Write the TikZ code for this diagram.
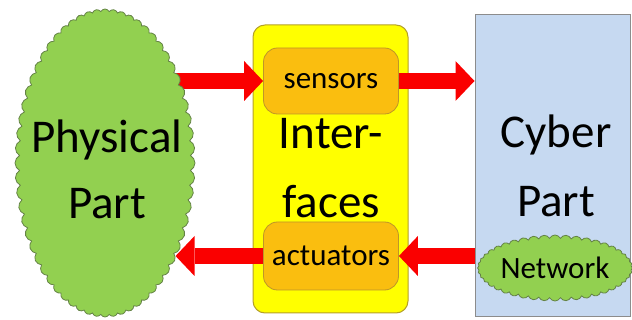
\documentclass[tikz,border=0pt]{standalone}
\usepackage{fontspec}
\setmainfont{Carlito}
\usetikzlibrary{shapes.symbols,shapes.geometric,arrows.meta}

\definecolor{leaf}{RGB}{146,208,80}
\definecolor{leafedge}{RGB}{100,130,70}
\definecolor{lemon}{RGB}{255,255,0}
\definecolor{lemonedge}{RGB}{180,160,40}
\definecolor{amber}{RGB}{250,190,15}
\definecolor{amberedge}{RGB}{190,150,40}
\definecolor{skyfill}{RGB}{198,217,241}
\definecolor{skyedge}{RGB}{140,140,140}
\definecolor{signalred}{RGB}{250,0,0}

\pgfdeclarelayer{bg}
\pgfdeclarelayer{mid}
\pgfsetlayers{bg,mid,main}

\tikzset{
  bigtext/.style={font=\fontsize{47}{66}\selectfont, align=center, inner sep=0pt},
  smalltext/.style={font=\fontsize{31}{36}\selectfont, inner sep=0pt},
  panel/.style={rectangle, rounded corners=12pt, fill=lemon, draw=lemonedge, line width=1pt},
  port/.style={rectangle, rounded corners=14pt, fill=amber, draw=amberedge, line width=0.8pt},
  cyberbox/.style={rectangle, fill=skyfill, draw=skyedge, line width=1pt},
  blob/.style={cloud, cloud ignores aspect, fill=leaf, draw=leafedge, line width=0.8pt},
  bigarrow/.style={draw=signalred, line width=16pt,
    -{Triangle[width=40pt,length=19pt,line width=0pt,fill=signalred]}}
}

\begin{document}
\begin{tikzpicture}[x=1pt,y=-1pt]
\useasboundingbox (0,0) rectangle (632,320);

% containers
\begin{pgfonlayer}{bg}
  \node[panel, minimum width=155pt, minimum height=288pt] (iface) at (330.5,169) {};
  \node[cyberbox, minimum width=155pt, minimum height=302pt] (cyber) at (552.5,166) {};
\end{pgfonlayer}

% physical side
\node[blob, cloud puffs=64, cloud puff arc=125,
      minimum width=180pt, minimum height=308pt] (phys) at (105,163) {};
\node[bigtext] (physlabel) at (107,169) {Physical\\Part};

% interface ports
\node[port, minimum width=135pt, minimum height=66pt] (sensors) at (331,81) {};
\node[smalltext] at (sensors) {sensors};
\node[port, minimum width=135pt, minimum height=68pt] (actuators) at (331,256) {};
\node[smalltext] at (actuators) {actuators};
\node[bigtext, font=\fontsize{47}{69}\selectfont] (ifacelabel) at (331,168) {Inter-\\faces};

% cyber side
\node[bigtext, font=\fontsize{47}{69}\selectfont] (cyberlabel) at (556,166) {Cyber\\Part};
\node[blob, cloud puffs=44, cloud puff arc=125,
      minimum width=125pt, minimum height=66pt, smalltext] (net) at (555,268) {Network};

% signal flow
\begin{pgfonlayer}{mid}
  \draw[bigarrow] (phys.center |- sensors.west) -- (sensors.west);
  \draw[bigarrow] (sensors.east) -- (cyber.west |- sensors.east);
  \draw[bigarrow] (cyber.west |- actuators.east) -- (actuators.east);
  \draw[bigarrow] (actuators.west) -- (phys.-52 |- actuators.west);
\end{pgfonlayer}
\end{tikzpicture}
\end{document}
